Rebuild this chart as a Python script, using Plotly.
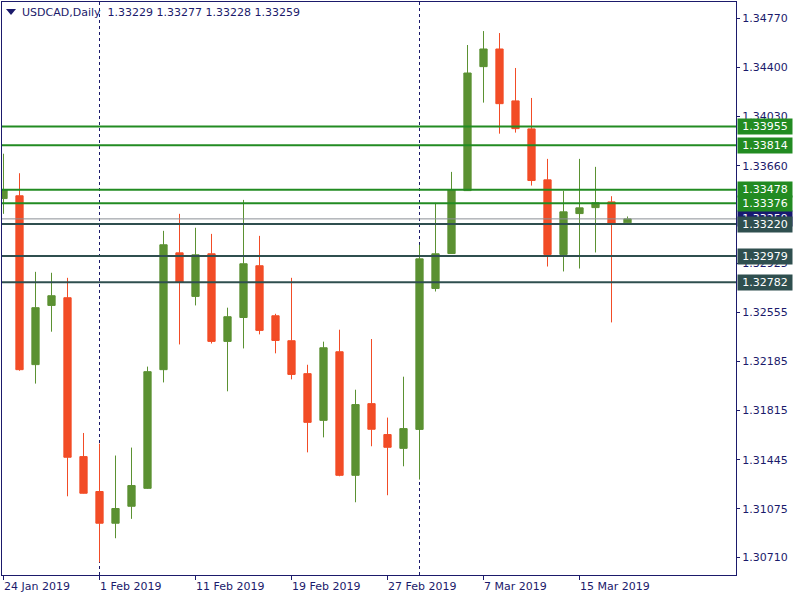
import pandas as pd
import plotly.graph_objects as go

# ---- data ----
dates = pd.bdate_range("2019-01-24", periods=40)
opens = [1.33412, 1.33433, 1.32161, 1.32607, 1.32665, 1.31468, 1.31205, 1.30966, 1.31094, 1.31229,
         1.32123, 1.33003, 1.32675, 1.32996, 1.32336, 1.32516, 1.32906, 1.32529, 1.32341, 1.32093,
         1.31741, 1.32258, 1.31327, 1.31867, 1.31634, 1.31530, 1.31673, 1.32735, 1.32998, 1.33472,
         1.34406, 1.34539, 1.34148, 1.33937, 1.33553, 1.32991, 1.33299, 1.33344, 1.33387, 1.33229]
highs = [1.33750, 1.33603, 1.32860, 1.32853, 1.32815, 1.31646, 1.31566, 1.31476, 1.31536, 1.32146,
         1.33169, 1.33297, 1.33192, 1.33146, 1.32590, 1.33402, 1.33131, 1.32544, 1.32815, 1.32160,
         1.32334, 1.32424, 1.31972, 1.32354, 1.31762, 1.32070, 1.33064, 1.33380, 1.33613, 1.34569,
         1.34674, 1.34659, 1.34396, 1.34170, 1.33711, 1.33470, 1.33711, 1.33651, 1.33430, 1.33277]
lows = [1.33297, 1.32115, 1.32018, 1.32409, 1.31169, 1.31190, 1.30672, 1.30853, 1.30999, 1.31225,
        1.32027, 1.32313, 1.32607, 1.32320, 1.31960, 1.32283, 1.32389, 1.32246, 1.32050, 1.31500,
        1.31613, 1.31320, 1.31124, 1.31546, 1.31177, 1.31395, 1.31295, 1.32712, 1.32995, 1.33470,
        1.34135, 1.33901, 1.33909, 1.33510, 1.32900, 1.32863, 1.32885, 1.33006, 1.32479, 1.33228]
closes = [1.33478, 1.32123, 1.32590, 1.32680, 1.31463, 1.31192, 1.30966, 1.31077, 1.31250, 1.32108,
          1.33064, 1.32780, 1.32988, 1.32336, 1.32522, 1.32921, 1.32419, 1.32343, 1.32087, 1.31726,
          1.32288, 1.31327, 1.31860, 1.31674, 1.31538, 1.31679, 1.32958, 1.32996, 1.33478, 1.34358,
          1.34539, 1.34127, 1.33939, 1.33548, 1.32991, 1.33312, 1.33342, 1.33380, 1.33222, 1.33259]

x_tick_dates = ["2019-01-24", "2019-02-01", "2019-02-11", "2019-02-19", "2019-02-27", "2019-03-07", "2019-03-15"]
x_tick_labels = ["24 Jan 2019", "1 Feb 2019", "11 Feb 2019", "19 Feb 2019", "27 Feb 2019", "7 Mar 2019", "15 Mar 2019"]
separator_dates = ["2019-02-01", "2019-03-01"]

y_tick_vals = [1.34770, 1.34400, 1.34030, 1.33660, 1.32925, 1.32555, 1.32185, 1.31815, 1.31445, 1.31075, 1.30710]
y_tick_labels = ["1.34770", "1.34400", "1.34030", "1.33660", "1.32925", "1.32555", "1.32185", "1.31815", "1.31445", "1.31075", "1.30710"]

green_levels = [1.33955, 1.33814, 1.33478, 1.33376]
dark_levels = [1.33220, 1.32979, 1.32782]
bid_price = 1.33259

symbol = "USDCAD,Daily"

# ---- styles ----
NAVY = "#1B1A6B"
GREEN_C = "#5B9132"
RED_C = "#F24C26"
LEVEL_GREEN = "#228B22"
LEVEL_DARK = "#2F4F4F"
FONT = "DejaVu Sans"

date_strs = [d.strftime("%Y-%m-%d") for d in dates]
xs = list(range(len(dates)))

fig = go.Figure()
fig.add_trace(go.Candlestick(
    x=xs, open=opens, high=highs, low=lows, close=closes,
    increasing=dict(line=dict(color=GREEN_C, width=1), fillcolor=GREEN_C),
    decreasing=dict(line=dict(color=RED_C, width=1), fillcolor=RED_C),
    whiskerwidth=0, showlegend=False, hoverinfo="skip",
))

shapes = []
# month separators
for d in separator_dates:
    shapes.append(dict(type="line", xref="x", yref="paper", x0=date_strs.index(d), x1=date_strs.index(d),
                       y0=0, y1=1, line=dict(color=NAVY, width=1, dash="3px,3px"), layer="below"))
# bid line
shapes.append(dict(type="line", xref="paper", yref="y", x0=0, x1=1, y0=bid_price, y1=bid_price,
                   line=dict(color="#8A8F96", width=1)))
for lv in green_levels:
    shapes.append(dict(type="line", xref="paper", yref="y", x0=0, x1=1, y0=lv, y1=lv,
                       line=dict(color=LEVEL_GREEN, width=2)))
for lv in dark_levels:
    shapes.append(dict(type="line", xref="paper", yref="y", x0=0, x1=1, y0=lv, y1=lv,
                       line=dict(color=LEVEL_DARK, width=2)))
# header triangle
shapes.append(dict(type="path", xref="paper", yref="paper", xsizemode="pixel", ysizemode="pixel",
                   xanchor=0, yanchor=1, path="M4,-7 L14,-7 L9,-13 Z",
                   fillcolor=NAVY, line=dict(width=0)))

annotations = []
# header text
annotations.append(dict(xref="paper", yref="paper", x=0, y=1, xanchor="left", yanchor="middle",
                        xshift=18, yshift=-10.5, showarrow=False,
                        text=symbol + " &nbsp;" + " ".join(f"{v:.5f}" for v in [opens[-1], highs[-1], lows[-1], closes[-1]]),
                        font=dict(family=FONT, size=11, color=NAVY)))
# date labels
for d, lab in zip(x_tick_dates, x_tick_labels):
    annotations.append(dict(xref="x", yref="paper", x=date_strs.index(d), y=0, xanchor="left", yanchor="top",
                            xshift=-2, yshift=-3, showarrow=False, text=lab,
                            font=dict(family=FONT, size=11, color=NAVY)))
# price labels (bid first so others overlay it)
def price_label(val, bg):
    return dict(xref="paper", yref="y", x=1, y=val, xanchor="left", yanchor="middle", xshift=1,
                showarrow=False, text=f"{val:.5f}", bgcolor=bg, width=52, height=13, align="center",
                borderpad=1, font=dict(family=FONT, size=11, color="white"))

annotations.append(price_label(bid_price, "#191970"))
for lv in green_levels:
    annotations.append(price_label(lv, LEVEL_GREEN))
for lv in dark_levels:
    annotations.append(price_label(lv, LEVEL_DARK))

fig.update_layout(
    template="none",
    width=800, height=600,
    margin=dict(l=2, r=64, t=2, b=24.5, autoexpand=False),
    paper_bgcolor="white", plot_bgcolor="white",
    boxgap=0.35,
    shapes=shapes, annotations=annotations,
    showlegend=False,
    xaxis=dict(range=[-0.09375, 45.78125], rangeslider=dict(visible=False), showgrid=False, zeroline=False,
               automargin=False,
               showline=True, mirror=True, linecolor=NAVY, linewidth=1,
               tickvals=[date_strs.index(d) for d in x_tick_dates], ticktext=["" for _ in x_tick_dates],
               ticks="outside", ticklen=4, tickcolor=NAVY, showticklabels=False),
    yaxis=dict(range=[1.30576, 1.34893], side="right", showgrid=False, zeroline=False,
               automargin=False,
               showline=True, mirror=True, linecolor=NAVY, linewidth=1,
               tickvals=y_tick_vals, ticktext=y_tick_labels, ticks="outside", ticklen=3, tickcolor=NAVY,
               tickfont=dict(family=FONT, size=11, color=NAVY)),
)

fig.write_html("out.html", config={"displayModeBar": False},
               post_script="document.body.style.margin='0';")
